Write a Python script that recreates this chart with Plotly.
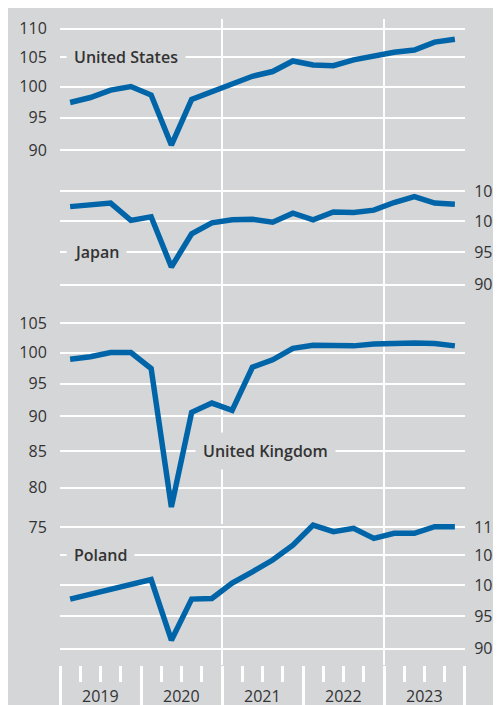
import math
import plotly.graph_objects as go

# Quarterly GDP indices, 2019Q1 - 2023Q4 (Q4 2019 = 100)
quarters = [y + (q - 0.5) / 4 for y in range(2019, 2024) for q in range(1, 5)]
years = [2019, 2020, 2021, 2022, 2023]

us = [97.4, 98.2, 99.4, 100.0, 98.6, 90.8, 97.9, 99.1, 100.5, 101.7,
      102.5, 104.3, 103.6, 103.5, 104.5, 105.2, 105.8, 106.2, 107.6, 108.1]
japan = [102.4, 102.8, 103.0, 100.1, 100.7, 92.7, 97.9, 99.7, 100.2, 100.3,
         99.8, 101.3, 100.2, 101.5, 101.4, 101.8, 103.1, 104.1, 103.0, 102.8]
uk = [98.9, 99.3, 100.0, 100.0, 97.4, 77.5, 90.6, 92.0, 90.9, 97.6,
      98.8, 100.7, 101.2, 101.2, 101.1, 101.4, 101.6, 101.6, 101.5, 101.1]
poland = [97.7, 98.5, 99.3, 100.1, 100.9, 91.3, 97.7, 97.8, 100.3, 102.2,
          104.2, 106.8, 110.4, 109.2, 109.8, 108.0, 108.9, 108.9, 110.1, 110.1]

us_ticks = [90, 95, 100, 105, 110]
japan_ticks = [90, 95, 100, 105]
uk_ticks = [75, 80, 85, 90, 95, 100, 105]
poland_ticks = [90, 95, 100, 105, 110]

GREY = "#d5d6d8"
BLUE = "#0065a8"
TEXT = "#333333"
FONT = "Open Sans"

# the page body adds an 8px margin around the figure
W, H = 501, 705
ML, MR, MT, MB = 52, 44, 11, 48
PLOT_W = W - ML - MR
PLOT_H = H - MT - MB
PX_PER_DECADE = 1396

# pixel row (in the figure) of the value 100 on each panel
US_100, JP_100, UK_100, PL_100 = 78.5, 213, 344.5, 577


def log_range(px_of_100):
    # keep the same log scale on every panel
    top = 2 + (px_of_100 - MT) / PX_PER_DECADE
    bottom = 2 + (px_of_100 - (H - MB)) / PX_PER_DECADE
    return [bottom, top]


def paper_y(px_row):
    return 1 - (px_row - MT) / PLOT_H


fig = go.Figure()
for vals, ax in [(us, "y"), (japan, "y2"), (uk, "y3"), (poland, "y4")]:
    fig.add_trace(go.Scatter(
        x=quarters, y=vals, yaxis=ax, mode="lines",
        line=dict(color=BLUE, width=5.5), showlegend=False,
        hoverinfo="skip",
    ))


def yaxis(ticks, side, px100, overlay=None):
    d = dict(
        type="log", range=log_range(px100), domain=[0, 1], side=side,
        tickvals=ticks, ticktext=[str(t) for t in ticks],
        showgrid=True, gridcolor="white", gridwidth=2,
        zeroline=False, showline=False,
        ticks="outside", ticklen=9 if side == "left" else 5,
        tickcolor="rgba(0,0,0,0)",
        tickfont=dict(family=FONT, size=16, color=TEXT),
        fixedrange=True,
    )
    if overlay:
        d["overlaying"] = overlay
    return d


label_font = dict(family=FONT, size=16, color=TEXT, weight=600)


def label(text, x, yref, y):
    # log axes take annotation positions in log10 units
    return dict(
        text=text, x=x, y=math.log10(y), xref="x", yref=yref,
        xanchor="left", yanchor="middle", showarrow=False, bgcolor=GREY,
        borderpad=7, font=label_font,
    )


annotations = [
    label("United States", 2019.08, "y", 105),
    label("Japan", 2019.08, "y2", 95),
    label("United Kingdom", 2020.667, "y3", 85),
    label("Poland", 2019.08, "y4", 105),
]
for yr in years:
    annotations.append(dict(
        text=str(yr), x=yr + 0.5, y=-31 / PLOT_H, xref="x", yref="paper",
        xanchor="center", yanchor="middle", showarrow=False,
        font=dict(family=FONT, size=16, color=TEXT),
    ))

shapes = []
# vertical white lines at 2021 and 2023
for yr in [2021, 2023]:
    shapes.append(dict(type="line", xref="x", yref="paper", x0=yr, x1=yr,
                       y0=0, y1=1, line=dict(color="white", width=2),
                       layer="between"))
# gap between the UK 75 and Poland 110 gridlines
shapes.append(dict(type="rect", xref="x", yref="paper", x0=2019 + 140 / 81,
                   x1=2019 + 199 / 81, y0=paper_y(521.5), y1=paper_y(516),
                   fillcolor=GREY, line=dict(width=0), layer="between"))

fig.update_layout(
    width=W, height=H,
    margin=dict(l=ML, r=MR, t=MT, b=MB, autoexpand=False),
    paper_bgcolor=GREY, plot_bgcolor=GREY,
    xaxis=dict(
        range=[2018.9999, 2024.0001], showgrid=False, zeroline=False,
        showline=False, tickvals=[2019, 2020, 2021, 2022, 2023, 2024],
        ticktext=[""] * 6, ticks="outside", ticklen=45, tickwidth=2.5,
        tickcolor="white",
        minor=dict(ticks="outside", tick0=2019, dtick=0.25, ticklen=16,
                   tickwidth=2.5, tickcolor="white", showgrid=False),
        fixedrange=True,
    ),
    yaxis=yaxis(us_ticks, "left", US_100),
    yaxis2=yaxis(japan_ticks, "right", JP_100, "y"),
    yaxis3=yaxis(uk_ticks, "left", UK_100, "y"),
    yaxis4=yaxis(poland_ticks, "right", PL_100, "y"),
    annotations=annotations,
    shapes=shapes,
)

fig.write_html("out.html")
